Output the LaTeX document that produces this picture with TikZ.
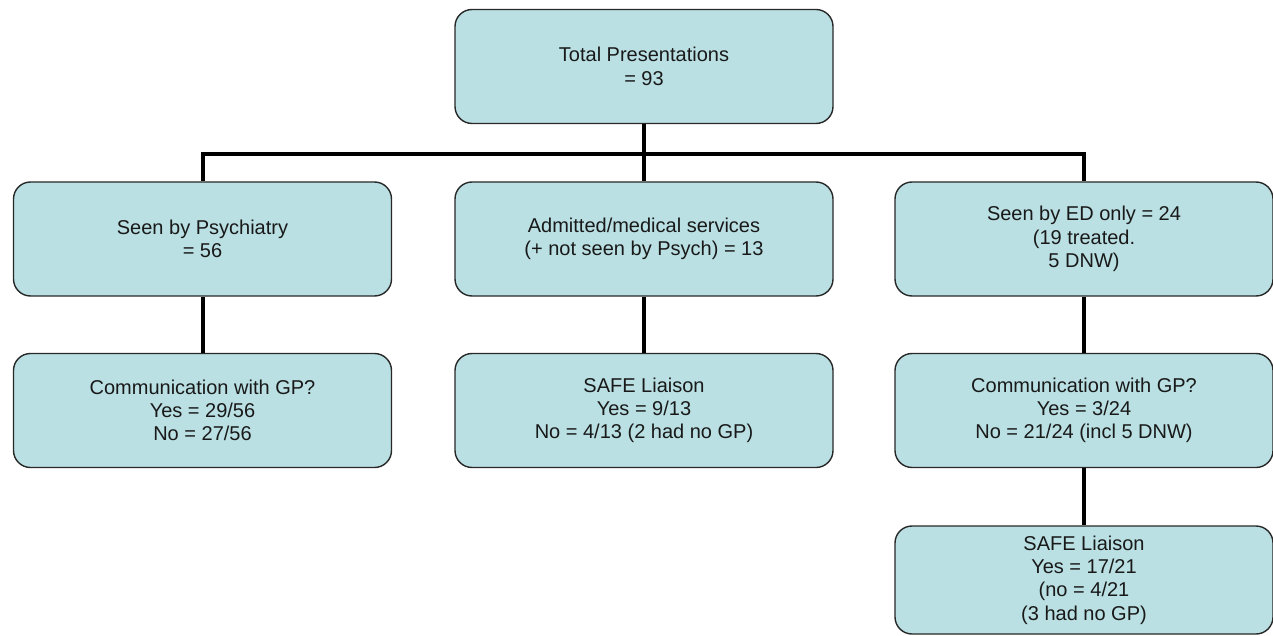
\documentclass[tikz,border=0pt]{standalone}
\usepackage{fontspec}
\setmainfont{Liberation Sans}
\definecolor{boxfill}{RGB}{186,224,227}
\definecolor{boxline}{RGB}{40,40,40}
\tikzset{
  box/.style={draw=boxline,line width=1.4pt,fill=boxfill,rounded corners=17pt,
    minimum width=378pt,minimum height=114pt,align=center,text=black!90,
    font=\fontsize{20}{23.3}\selectfont},
  link/.style={line width=4pt}
}
\begin{document}
\begin{tikzpicture}[x=1pt,y=-1pt]
  \useasboundingbox (0,0) rectangle (1273,636);
  \node[box](top) at (644,66.5) {Total Presentations\\= 93};
  \node[box](psy) at (202.5,239) {Seen by Psychiatry\\= 56};
  \node[box](med) at (644,239) {Admitted/medical services\\(+ not seen by Psych) = 13};
  \node[box](ed) at (1084,239) {Seen by ED only = 24\\(19 treated.\\5 DNW)};
  \node[box](psygp) at (202.5,410.5) {Communication with GP?\\Yes = 29/56\\No = 27/56};
  \node[box](medsafe) at (644,410.5) {SAFE Liaison\\Yes = 9/13\\No = 4/13 (2 had no GP)};
  \node[box](edgp) at (1084,410.5) {Communication with GP?\\Yes = 3/24\\No = 21/24 (incl 5 DNW)};
  \node[box,minimum height=108pt](edsafe) at (1084,580) {SAFE Liaison\\Yes = 17/21\\(no = 4/21\\(3 had no GP)};
  \coordinate (bus) at (644,154);
  % tree
  \draw[link](top.south)--(bus)--(med.north);
  \draw[link](psy.north)--(psy.north|-bus)--(ed.north|-bus)--(ed.north);
  \draw[link](psy)--(psygp);
  \draw[link](med)--(medsafe);
  \draw[link](ed)--(edgp);
  \draw[link](edgp)--(edsafe);
\end{tikzpicture}
\end{document}
